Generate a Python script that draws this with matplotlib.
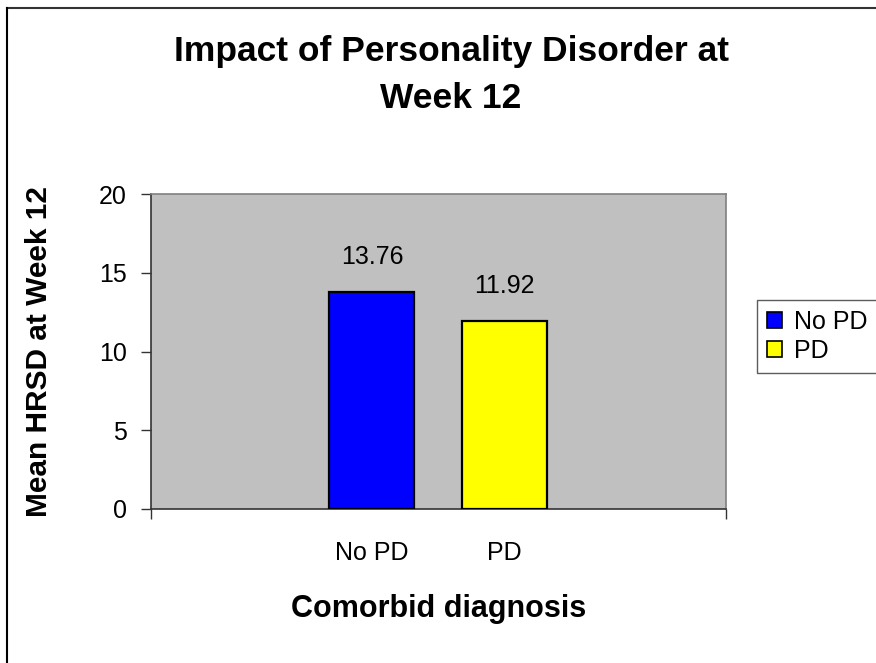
import matplotlib
matplotlib.use("Agg")
import matplotlib.pyplot as plt
from matplotlib.lines import Line2D
from matplotlib.patches import Patch

# data
groups = ["No PD", "PD"]
means = [13.76, 11.92]
bar_colors = ["#0000FF", "#FFFF00"]
yticks = [0, 5, 10, 15, 20]

plt.rcParams["font.family"] = ["Liberation Sans", "DejaVu Sans"]

W, H = 876, 663
fig = plt.figure(figsize=(W / 100, H / 100), dpi=100)
fig.patch.set_facecolor("white")

# plot area in pixel terms
left, right, top, bottom = 150.7, 726, 194.3, 509
ax = fig.add_axes([left / W, 1 - bottom / H, (right - left) / W, (bottom - top) / H])
ax.set_facecolor("#C0C0C0")

x = list(range(len(groups)))
bars = ax.bar(x, means, width=0.64, color=bar_colors, edgecolor="black", linewidth=1.6, zorder=3)

for xi, v in zip(x, means):
    ax.annotate(f"{v:.2f}", (xi, v), xytext=(0, 17), textcoords="offset points",
                ha="center", va="bottom", fontsize=18)

ax.set_xlim(-1.665, 2.665)
ax.set_ylim(0, 20)
ax.set_yticks(yticks)
ax.set_yticklabels([str(t) for t in yticks], fontsize=18)
ax.tick_params(axis="y", direction="out", length=7, width=1, color="#333333", pad=10)

ax.set_xticks(x)
ax.set_xticklabels(groups, fontsize=18)
ax.tick_params(axis="x", which="major", length=0, pad=23)
ax.set_xticks([-1.665, 2.665], minor=True)
ax.tick_params(axis="x", which="minor", direction="out", length=7, width=1, color="#333333")

for side in ["left", "bottom"]:
    ax.spines[side].set_color("#333333")
    ax.spines[side].set_linewidth(1.2)
for side in ["top", "right"]:
    ax.spines[side].set_color("#808080")
    ax.spines[side].set_linewidth(1.2)

ax.set_ylabel("Mean HRSD at Week 12", fontsize=21.5, fontweight="bold", labelpad=33)
ax.set_xlabel("Comorbid diagnosis", fontsize=22, fontweight="bold", labelpad=21)

fig.text(451 / W, 1 - 75 / H, "Impact of Personality Disorder at\nWeek 12",
         ha="center", va="center", fontsize=25.5, fontweight="bold", linespacing=1.5)

handles = [Patch(facecolor=c, edgecolor="black", linewidth=1.2) for c in bar_colors]
leg = fig.legend(handles, groups, loc="upper left", bbox_to_anchor=(757 / W, 1 - 300 / H),
                 borderaxespad=0, fontsize=18, frameon=True, fancybox=False,
                 handlelength=0.6, handleheight=0.6, handletextpad=0.5,
                 borderpad=0.4, labelspacing=0.2)
leg.get_frame().set_edgecolor("#333333")
leg.get_frame().set_linewidth(1.0)

# outer chart border (only top and left visible in the crop)
fig.add_artist(Line2D([7 / W, 1], [1 - 8 / H, 1 - 8 / H], transform=fig.transFigure,
                      color="#333333", linewidth=1.5))
fig.add_artist(Line2D([7 / W, 7 / W], [0, 1 - 8 / H], transform=fig.transFigure,
                      color="black", linewidth=1.5))

fig.savefig("out.png", dpi=100)
